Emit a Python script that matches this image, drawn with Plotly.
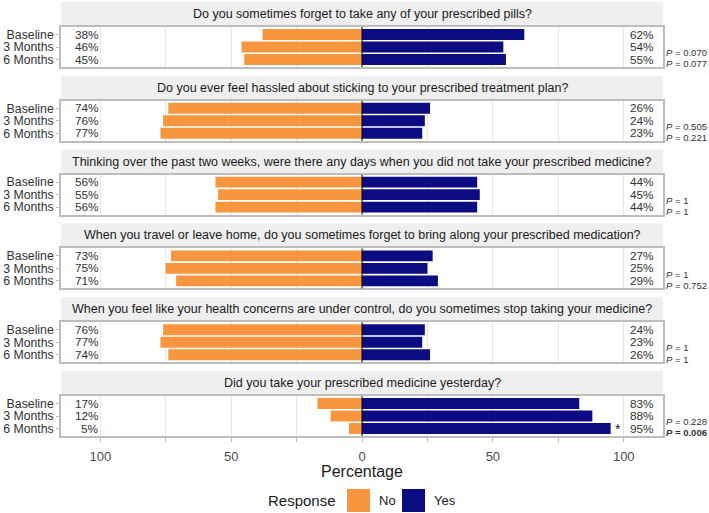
import plotly.graph_objects as go

questions = [
    "Do you sometimes forget to take any of your prescribed pills?",
    "Do you ever feel hassled about sticking to your prescribed treatment plan?",
    "Thinking over the past two weeks, were there any days when you did not take your prescribed medicine?",
    "When you travel or leave home, do you sometimes forget to bring along your prescribed medication?",
    "When you feel like your health concerns are under control, do you sometimes stop taking your medicine?",
    "Did you take your prescribed medicine yesterday?",
]
periods = ["Baseline", "3 Months", "6 Months"]
no_pct = [
    [38, 46, 45],
    [74, 76, 77],
    [56, 55, 56],
    [73, 75, 71],
    [76, 77, 74],
    [17, 12, 5],
]
yes_pct = [
    [62, 54, 55],
    [26, 24, 23],
    [44, 45, 44],
    [27, 25, 29],
    [24, 23, 26],
    [83, 88, 95],
]
p_3m = ["0.070", "0.505", "1", "1", "1", "0.228"]
p_6m = ["0.077", "0.221", "1", "0.752", "1", "0.006"]
sig_6m = [False, False, False, False, False, True]
tick_vals = [-100, -75, -50, -25, 0, 25, 50, 75, 100]
tick_text = ["100", "", "50", "", "0", "", "50", "", "100"]

ORANGE = "#F7963F"
NAVY = "#0B0B82"
FONT = "Liberation Sans, Arial, sans-serif"

W, H = 709, 513
ML, MR, MT, MB = 61, 46, 0, 76
PH = H - MT - MB
PW = W - ML - MR


def py(px):
    return (PH - (px - MT)) / PH


def px_x(px):
    return (px - ML) / PW


fig = go.Figure()
layout = dict(
    width=W, height=H,
    margin=dict(l=ML, r=MR, t=MT, b=MB, autoexpand=False),
    paper_bgcolor="white", plot_bgcolor="white",
    font=dict(family=FONT, color="#333333"),
    showlegend=False,
    barmode="relative",
)
shapes = []
annotations = []

period_step = 73.8
for i in range(6):
    k = i + 1
    xa = "x" if k == 1 else f"x{k}"
    ya = "y" if k == 1 else f"y{k}"
    top = 2 + period_step * i
    strip_top, strip_bot = top, top + 24
    pan_top, pan_bot = top + 25, top + 65

    fig.add_trace(go.Bar(
        y=periods, x=[-v for v in no_pct[i]], orientation="h",
        marker=dict(color=ORANGE, line=dict(width=0)), width=0.87,
        xaxis=xa, yaxis=ya, name="No", hoverinfo="skip"))
    fig.add_trace(go.Bar(
        y=periods, x=yes_pct[i], orientation="h",
        marker=dict(color=NAVY, line=dict(width=0)), width=0.87,
        xaxis=xa, yaxis=ya, name="Yes", hoverinfo="skip"))

    layout["xaxis" if k == 1 else f"xaxis{k}"] = dict(
        domain=[0, 1], anchor=ya, range=[-115, 115],
        tickmode="array", tickvals=tick_vals,
        ticktext=tick_text if k == 6 else [""] * len(tick_vals),
        showticklabels=(k == 6),
        showgrid=True, gridcolor="#E6E6E6", gridwidth=1,
        zeroline=False, automargin=False,
        showline=True, linecolor="#BDBDBD", linewidth=1.5, mirror=True,
        ticks="outside" if k == 6 else "", ticklen=4, tickcolor="#BDBDBD",
        ticklabelstandoff=4,
        tickfont=dict(size=13, color="#4D4D4D"),
    )
    layout["yaxis" if k == 1 else f"yaxis{k}"] = dict(
        domain=[py(pan_bot), py(pan_top)], anchor=xa,
        type="category", categoryorder="array", categoryarray=periods,
        tickmode="array", tickvals=periods, ticktext=periods,
        range=[2.6, -0.6], autorange=False, automargin=False,
        showgrid=False, zeroline=False,
        showline=True, linecolor="#BDBDBD", linewidth=1.5, mirror=True,
        ticks="outside", ticklen=3, tickcolor="#BDBDBD",
        tickfont=dict(size=12.3, color="#333333"),
    )

    # strip
    shapes.append(dict(type="rect", xref="paper", yref="paper",
                       x0=0, x1=1, y0=py(strip_bot), y1=py(strip_top),
                       fillcolor="#EFEFEF", line=dict(width=0), layer="below"))
    annotations.append(dict(xref="paper", yref="paper", x=0.5,
                            y=py((strip_top + strip_bot) / 2),
                            text=questions[i], showarrow=False,
                            font=dict(size=12.5, color="#1A1A1A"),
                            xanchor="center", yanchor="middle"))
    # zero line
    shapes.append(dict(type="line", xref=xa, yref=f"{ya} domain",
                       x0=0, x1=0, y0=0, y1=1,
                       line=dict(color="black", width=1), layer="above"))
    # percentage labels
    for j, per in enumerate(periods):
        annotations.append(dict(xref=xa, yref=ya, x=-100, y=per,
                                text=f"{no_pct[i][j]}%", showarrow=False,
                                xanchor="right", yanchor="middle", borderpad=0,
                                font=dict(size=11.8, color="#333333")))
        annotations.append(dict(xref=xa, yref=ya, x=102, y=per,
                                text=f"{yes_pct[i][j]}%", showarrow=False,
                                xanchor="left", yanchor="middle", borderpad=0,
                                font=dict(size=11.8, color="#333333")))
    # p-values
    annotations.append(dict(xref="paper", yref=ya, x=px_x(665), y=1.45,
                            text=f"<i>P</i> = {p_3m[i]}", showarrow=False,
                            xanchor="left", yanchor="middle", borderpad=0,
                            font=dict(size=9.5, color="#333333")))
    t6 = f"<i>P</i> = {p_6m[i]}"
    if sig_6m[i]:
        t6 = f"<b>{t6}</b>"
        annotations.append(dict(xref=xa, yref=ya, x=yes_pct[i][2] + 1,
                                y=periods[2], text="*", showarrow=False,
                                xanchor="left", yanchor="middle",
                                font=dict(size=14, color="#222222")))
    annotations.append(dict(xref="paper", yref=ya, x=px_x(665), y=2.35,
                            text=t6, showarrow=False,
                            xanchor="left", yanchor="middle", borderpad=0,
                            font=dict(size=9.5, color="#333333")))

# axis title
annotations.append(dict(xref="paper", yref="paper", x=0.5, y=py(471),
                        text="Percentage", showarrow=False,
                        xanchor="center", yanchor="middle",
                        font=dict(size=16, color="#1A1A1A")))
# legend (manual)
annotations.append(dict(xref="paper", yref="paper", x=px_x(338), y=py(500),
                        text="Response", showarrow=False,
                        xanchor="right", yanchor="middle",
                        font=dict(size=15, color="#1A1A1A")))
for x0, col, lab in [(347, ORANGE, "No"), (402, NAVY, "Yes")]:
    shapes.append(dict(type="rect", xref="paper", yref="paper",
                       x0=px_x(x0), x1=px_x(x0 + 23), y0=py(512), y1=py(489),
                       fillcolor=col, line=dict(width=0)))
    annotations.append(dict(xref="paper", yref="paper", x=px_x(x0 + 30), y=py(500),
                            text=lab, showarrow=False,
                            xanchor="left", yanchor="middle",
                            font=dict(size=13, color="#1A1A1A")))

layout["shapes"] = shapes
layout["annotations"] = annotations
fig.update_layout(**layout)
fig.write_html("out.html", config={"displayModeBar": False},
               post_script="document.body.style.margin='0';")
